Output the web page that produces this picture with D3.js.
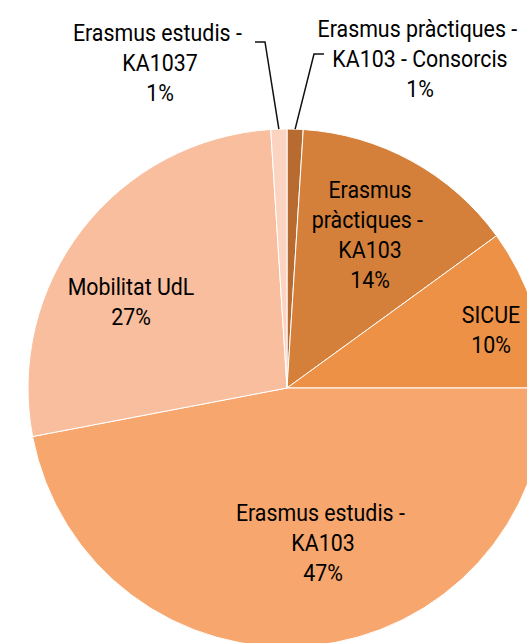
<!DOCTYPE html>
<html>
<head>
<meta charset="utf-8">
<script src="https://cdn.jsdelivr.net/npm/d3@7"></script>
<style>
  html, body { margin: 0; padding: 0; background: #fff; }
  svg { display: block; }
  text { font-family: Roboto, "Liberation Sans", Arial, sans-serif; fill: #000; white-space: pre; }
</style>
</head>
<body>
<svg id="chart" width="527" height="643"></svg>
<script>
// ---- data (clockwise from 12 o'clock) ----
const categories = [
  "Erasmus pràctiques - KA103 - Consorcis",
  "Erasmus pràctiques - KA103",
  "SICUE",
  "Erasmus estudis - KA103",
  "Mobilitat UdL",
  "Erasmus estudis - KA1037"
];
const percentages = [1, 14, 10, 47, 27, 1];
const labelLines = [
  ["Erasmus pràctiques - ", "KA103 - Consorcis"],
  ["Erasmus", "pràctiques - ", "KA103"],
  ["SICUE"],
  ["Erasmus estudis - ", "KA103"],
  ["Mobilitat UdL"],
  ["Erasmus estudis - ", "KA1037"]
];
const colors = ["#b76b31", "#d4803b", "#ec9146", "#f7a66d", "#f8be9e", "#fbd4c1"];

// ---- layout ----
const W = 527, H = 643;
const cx = 287, cy = 388, R = 259;
const fontSize = 24, lineH = 30, squeeze = 0.89;
// label block anchor: x center, baseline of first line
const labelPos = [
  {x: 420, y: 37,  outside: true, elbow: [[314, 54], [324, 54]]},
  {x: 370, y: 198},
  {x: 491, y: 323},
  {x: 323, y: 521},
  {x: 131, y: 295},
  {x: 160, y: 41,  outside: true, elbow: [[265, 42], [255, 42]]}
];

const svg = d3.select("#chart");
const data = categories.map((c, i) => ({cat: c, value: percentages[i], i}));

const pie = d3.pie().sort(null).value(d => d.value);
const arcs = pie(data);
const arc = d3.arc().innerRadius(0).outerRadius(R);

const g = svg.append("g").attr("transform", `translate(${cx},${cy})`);
g.selectAll("path.slice")
  .data(arcs)
  .join("path")
  .attr("class", "slice")
  .attr("d", arc)
  .attr("fill", d => colors[d.data.i])
  .attr("stroke", "#ffffff")
  .attr("stroke-width", 1);

// leader lines
const edgeArc = d3.arc().innerRadius(R).outerRadius(R);
arcs.forEach(d => {
  const lp = labelPos[d.data.i];
  if (!lp.outside) return;
  const [ex, ey] = edgeArc.centroid(d);
  const pts = [[cx + ex, cy + ey], ...lp.elbow];
  svg.append("path")
    .attr("d", d3.line()(pts))
    .attr("fill", "none")
    .attr("stroke", "#111")
    .attr("stroke-width", 1.5);
});

// labels
arcs.forEach(d => {
  const i = d.data.i;
  const lp = labelPos[i];
  const lines = labelLines[i].concat([d3.format(".0f")(percentages[i]) + "%"]);
  const t = svg.append("g")
    .attr("transform", `translate(${lp.x},${lp.y}) scale(${squeeze},1)`)
    .append("text")
    .attr("text-anchor", "middle")
    .attr("font-size", fontSize);
  lines.forEach((ln, k) => {
    t.append("tspan")
      .attr("x", 0)
      .attr("y", k * lineH)
      .text(ln);
  });
});
</script>
</body>
</html>
